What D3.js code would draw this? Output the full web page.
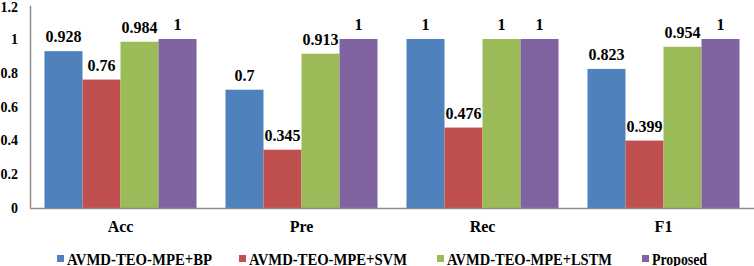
<!DOCTYPE html>
<html>
<head>
<meta charset="utf-8">
<script src="https://cdn.jsdelivr.net/npm/d3@7"></script>
<style>
  body { margin: 0; background: #fff; }
</style>
</head>
<body>
<svg id="chart" width="754" height="266"></svg>
<script>
// data
const metrics = ['Acc', 'Pre', 'Rec', 'F1']
const methods = ['AVMD-TEO-MPE+BP', 'AVMD-TEO-MPE+SVM', 'AVMD-TEO-MPE+LSTM', 'Proposed']
const bpValues = [0.928, 0.7, 1, 0.823]
const svmValues = [0.76, 0.345, 0.476, 0.399]
const lstmValues = [0.984, 0.913, 1, 0.954]
const proposedValues = [1, 1, 1, 1]
const yTicks = [0, 0.2, 0.4, 0.6, 0.8, 1, 1.2]

const seriesValues = [bpValues, svmValues, lstmValues, proposedValues]
const colors = ['#4F81BD', '#C0504D', '#9BBB59', '#8064A2']
const FONT = '"Liberation Serif", "Times New Roman", serif'

const svg = d3.select('#chart')

const plotLeft = 30, plotRight = 754, plotTop = 5.2, plotBottom = 208

const x0 = d3.scaleBand().domain(metrics).range([plotLeft, plotRight]).paddingInner(0.16).paddingOuter(0.08)
const x1 = d3.scaleBand().domain(methods).range([0, x0.bandwidth()])
const y = d3.scaleLinear().domain([0, 1.2]).range([plotBottom, plotTop])

function styleText(sel, size) {
    sel.attr('font-family', FONT).style('font-family', FONT).style('font-weight', 'bold').style('font-size', size + 'px').attr('fill', '#000')
}

// bars
seriesValues.forEach((vals, s) => {
    svg.append('g').selectAll('rect')
        .data(vals)
        .enter()
        .append('rect')
        .attr('x', (d, i) => x0(metrics[i]) + x1(methods[s]))
        .attr('y', d => y(d))
        .attr('width', x1.bandwidth())
        .attr('height', d => y(0) - y(d))
        .attr('fill', colors[s])

    const labels = svg.append('g').selectAll('text')
        .data(vals)
        .enter()
        .append('text')
        .attr('x', (d, i) => x0(metrics[i]) + x1(methods[s]) + x1.bandwidth() / 2)
        .attr('y', d => y(d) - 9)
        .attr('text-anchor', 'middle')
        .text(d => d3.format('~g')(d))
    styleText(labels, 16)
})

// y axis
const yAxis = d3.axisLeft(y).tickValues(yTicks).tickSize(0).tickPadding(12)
    .tickFormat(d => d3.format('~g')(d))
const yAxisGroup = svg.append('g').attr('transform', `translate(${plotLeft}, 0)`).call(yAxis)
yAxisGroup.attr('font-family', FONT)
yAxisGroup.select('.domain').attr('stroke', '#8c8c8c').attr('stroke-width', 1.5)
styleText(yAxisGroup.selectAll('text'), 14)
// keep the top label inside the picture
yAxisGroup.selectAll('.tick').filter(d => d === 1.2).select('text').attr('dy', '0.32em').attr('y', 2)

// x axis
const xAxis = d3.axisBottom(x0).tickSize(0).tickPadding(13)
const xAxisGroup = svg.append('g').attr('transform', `translate(0, ${plotBottom})`).call(xAxis)
xAxisGroup.attr('font-family', FONT)
xAxisGroup.select('.domain').attr('stroke', '#8c8c8c').attr('stroke-width', 1.5)
styleText(xAxisGroup.selectAll('text'), 16)

// legend layout (positions / text widths as in the original)
const legendX = [57, 239, 437, 642]
const legendW = [145, 158, 165, 55]
methods.forEach((m, i) => {
    svg.append('rect').attr('x', legendX[i]).attr('y', 255).attr('width', 7).attr('height', 7).attr('fill', colors[i])
    const t = svg.append('text').attr('x', legendX[i] + 10).attr('y', 264.5).text(m)
    styleText(t, 16)
    t.attr('textLength', legendW[i]).attr('lengthAdjust', 'spacingAndGlyphs')
})
</script>
</body>
</html>
